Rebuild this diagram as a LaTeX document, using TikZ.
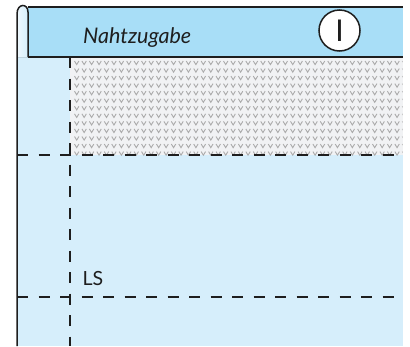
\documentclass[tikz,border=0pt]{standalone}
\usepackage{fontspec}
\newfontfamily\lab{Lato}
\definecolor{headblue}{HTML}{A8DEF7}
\definecolor{bodyblue}{HTML}{D6EEFB}
\definecolor{hatchbg}{HTML}{F1F2F4}
\definecolor{vgray}{HTML}{ABABAB}
\definecolor{ink}{HTML}{1E1E1E}
\tikzset{
  border/.style={draw=ink, line width=1.5pt},
  cutline/.style={draw=ink, line width=1.6pt, dash pattern=on 11pt off 10.5pt},
  lbl/.style={inner sep=0pt, text=ink, font=\lab\fontsize{20}{22}\selectfont},
  vmark/.style={draw=vgray, line width=0.9pt},
}
\begin{document}
\begin{tikzpicture}[x=1pt,y=-1pt]
\useasboundingbox (0,0) rectangle (410,346);
% body
\fill[bodyblue] (17,14) rectangle (402.5,346);
% curl
\fill[left color=white!60!bodyblue, right color=bodyblue] (17,57) -- (17,14) .. controls (17,3) and (28,3) .. (28,12) -- (28,57) -- cycle;
% header band
\fill[headblue] (28,7) rectangle (403,57);
% hatched region
\fill[hatchbg] (70,57) rectangle (402.5,155);
\begin{scope}
\clip (70,57) rectangle (402.5,155);
\foreach \i in {0,...,44} {
  \foreach \j in {0,...,12} {
    \draw[vmark] ({74.5+7.45*\i},{61+7.55*\j}) -- ++(2.2,3.6) -- ++(2.2,-3.6);
  }
}
\end{scope}
% borders
\draw[border] (17,346) -- (17,14) .. controls (17,3) and (28,3) .. (28,12) -- (28,57);
\draw[border] (28,7) -- (403,7);
\draw[border] (28,57) -- (403,57);
% cut lines
\coordinate (vtop) at (70,57);
\coordinate (vbot) at (70,346);
\coordinate (h1l) at (17,155);
\coordinate (h1r) at (403,155);
\coordinate (h2l) at (17,297);
\coordinate (h2r) at (403,297);
\draw[cutline] (vtop) -- (vbot);
\draw[cutline] (h1l) -- (h1r);
\draw[cutline] (h2l) -- (h2r);
% labels
\node[lbl, anchor=base west, font=\lab\itshape\fontsize{21.5}{23}\selectfont] (naht) at (83,43) {Nahtzugabe};
\node[lbl, anchor=base west, font=\lab\fontsize{19.5}{21}\selectfont] (ls) at (82.5,285) {LS};
\node[circle, draw=ink, line width=1.5pt, fill=white, minimum size=41pt, inner sep=0pt] (num) at (339.5,30.5) {};
\node[lbl, font=\lab\fontsize{30}{30}\selectfont] (numtxt) at (num.center) {I};
\end{tikzpicture}
\end{document}
